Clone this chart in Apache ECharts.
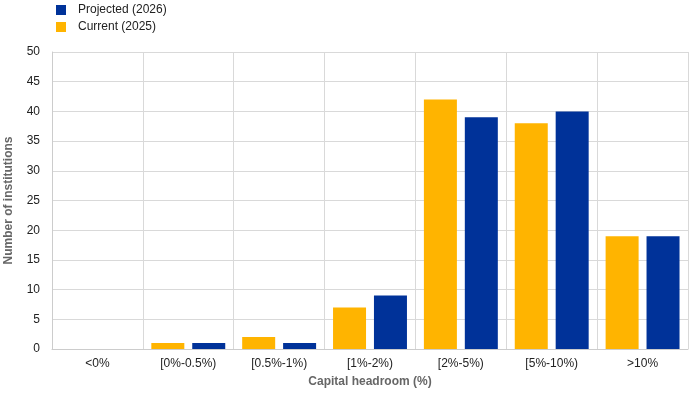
<!DOCTYPE html>
<html><head><meta charset="utf-8">
<script src="https://cdn.jsdelivr.net/npm/echarts@6/dist/echarts.min.js"></script>
<style>html,body{margin:0;padding:0;background:#fff}#c{width:691px;height:394px}</style>
</head><body><div id="c"></div>
<script>
const categories = ['<0%', '[0%-0.5%)', '[0.5%-1%)', '[1%-2%)', '[2%-5%)', '[5%-10%)', '>10%'];
const current2025 = [0, 1, 2, 7, 42, 38, 19];
const projected2026 = [0, 1, 1, 9, 39, 40, 19];
const yTicks = [0, 5, 10, 15, 20, 25, 30, 35, 40, 45, 50];

const chart = echarts.init(document.getElementById('c'));
const font = 'Liberation Sans, Arial, sans-serif';
chart.setOption({
  animation: false,
  textStyle: { fontFamily: font },
  legend: {
    data: ['Projected (2026)', 'Current (2025)'],
    orient: 'vertical', left: 56, top: 4, padding: 0,
    itemWidth: 10, itemHeight: 10, itemGap: 5,
    icon: 'rect',
    textStyle: { fontFamily: font, fontSize: 12, color: '#222', padding: [0, 0, 0, 7] }
  },
  grid: { left: 52, right: 3, top: 52, bottom: 45, containLabel: false, outerBoundsMode: 'none' },
  xAxis: {
    type: 'category', data: categories,
    name: 'Capital headroom (%)', nameLocation: 'middle', nameGap: 27,
    nameTextStyle: { fontFamily: font, fontSize: 12, fontWeight: 'bold', color: '#666' },
    axisLine: { lineStyle: { color: '#ccc' } },
    axisTick: { show: false },
    axisLabel: { fontFamily: font, fontSize: 12, color: '#222', margin: 9 },
    splitLine: { show: true, lineStyle: { color: '#d9d9d9' } }
  },
  yAxis: {
    type: 'value', min: yTicks[0], max: yTicks[yTicks.length - 1], interval: 5,
    name: 'Number of institutions', nameLocation: 'middle', nameGap: 37,
    nameTextStyle: { fontFamily: font, fontSize: 12, fontWeight: 'bold', color: '#666' },
    axisLine: { show: true, lineStyle: { color: '#ccc' } },
    axisTick: { show: false },
    axisLabel: { fontFamily: font, fontSize: 12, color: '#222', margin: 12 },
    splitLine: { lineStyle: { color: '#d9d9d9' } }
  },
  series: [
    { name: 'Current (2025)', type: 'bar', data: current2025, itemStyle: { color: '#FFB400' },
      barWidth: 33, barGap: '24%' },
    { name: 'Projected (2026)', type: 'bar', data: projected2026, itemStyle: { color: '#003299' },
      barWidth: 33, barGap: '24%' }
  ]
});
</script></body></html>
